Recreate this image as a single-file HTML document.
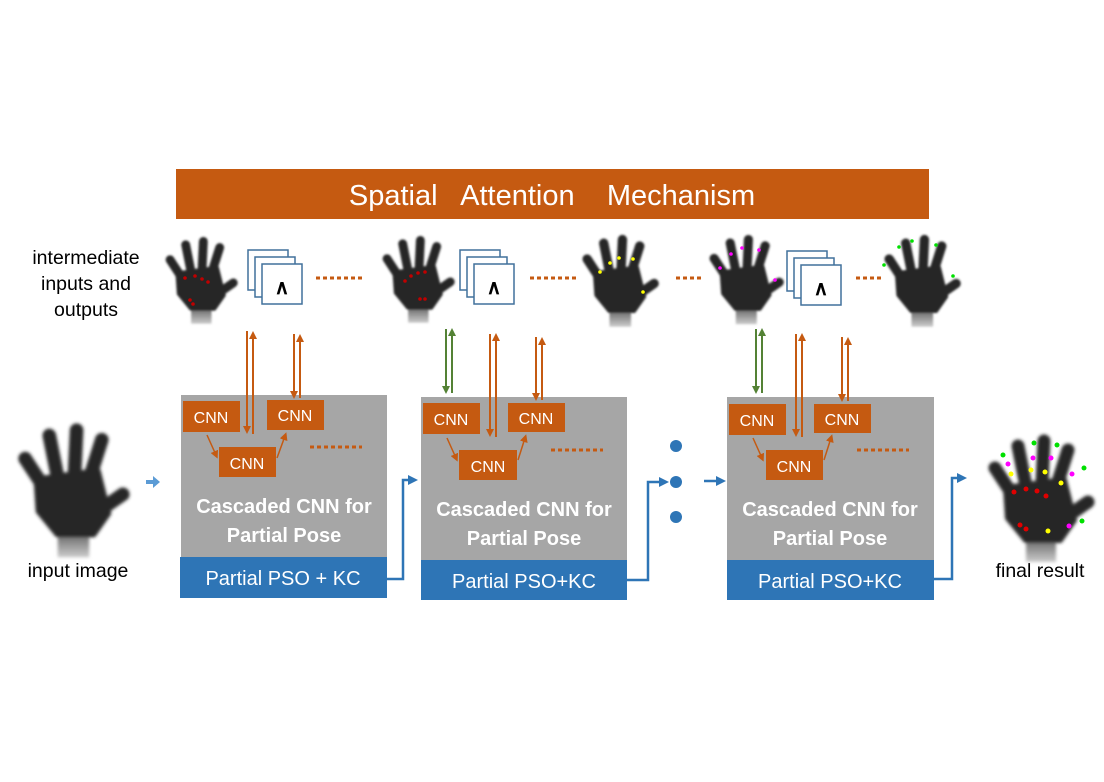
<!DOCTYPE html>
<html><head><meta charset="utf-8"><style>
html,body{margin:0;padding:0;background:#fff;}
svg{display:block;font-family:"Liberation Sans",sans-serif;}
</style></head><body>
<svg width="1104" height="782" viewBox="0 0 1104 782" xmlns="http://www.w3.org/2000/svg">
<defs>
<filter id="bl" x="-20%" y="-20%" width="140%" height="140%"><feGaussianBlur stdDeviation="1.6"/></filter>
<linearGradient id="wr" x1="0" y1="0" x2="0" y2="1"><stop offset="0" stop-color="#333"/><stop offset="1" stop-color="#ccc"/></linearGradient>
<g id="hand">
 <g filter="url(#bl)" stroke="#262626" stroke-linecap="round" fill="#262626">
  <rect x="34" y="92" width="30" height="34" fill="url(#wr)" stroke="none"/>
  <path d="M14 52 L72 44 L82 84 L68 104 L34 104 L16 82 Z" stroke-width="6" stroke-linejoin="round"/>
  <line x1="20" y1="58" x2="3" y2="32" stroke-width="13"/>
  <line x1="34" y1="50" x2="26" y2="10" stroke-width="13"/>
  <line x1="50" y1="48" x2="52" y2="5" stroke-width="13"/>
  <line x1="64" y1="52" x2="76" y2="14" stroke-width="13"/>
  <line x1="70" y1="84" x2="96" y2="66" stroke-width="13"/>
 </g>
</g>
<g id="stack">
 <rect x="0" y="0" width="40" height="40" fill="#fff" stroke="#41719c" stroke-width="1.5"/>
 <rect x="7" y="7" width="40" height="40" fill="#fff" stroke="#41719c" stroke-width="1.5"/>
 <rect x="14" y="14" width="40" height="40" fill="#fff" stroke="#41719c" stroke-width="1.5"/>
 <text x="34" y="44" font-size="20" font-weight="bold" text-anchor="middle" font-family="Liberation Sans,sans-serif">∧</text>
</g>
<marker id="ao" markerWidth="8" markerHeight="8" refX="4" refY="4" orient="auto" markerUnits="userSpaceOnUse"><path d="M0 0 L8 4 L0 8 Z" fill="#c55a11"/></marker>
<marker id="ag" markerWidth="8" markerHeight="8" refX="4" refY="4" orient="auto" markerUnits="userSpaceOnUse"><path d="M0 0 L8 4 L0 8 Z" fill="#548235"/></marker>
<marker id="ab" markerWidth="10" markerHeight="10" refX="5" refY="5" orient="auto" markerUnits="userSpaceOnUse"><path d="M0 0 L10 5 L0 10 Z" fill="#2e75b6"/></marker>
</defs>

<rect x="176" y="169" width="753" height="50" fill="#c55a11"/>
<text x="552" y="205" font-size="29" fill="#fff" text-anchor="middle" xml:space="preserve">Spatial   Attention    Mechanism</text>

<text x="86" y="264" font-size="19.5" text-anchor="middle">intermediate</text>
<text x="86" y="290" font-size="19.5" text-anchor="middle">inputs and</text>
<text x="86" y="316" font-size="19.5" text-anchor="middle">outputs</text>
<text x="78" y="577" font-size="19.5" text-anchor="middle">input image</text>
<text x="1040" y="577" font-size="19.5" text-anchor="middle">final result</text>

<use href="#hand" transform="translate(168,238) scale(0.68)"/>
<g fill="#c00000"><circle cx="185" cy="278" r="1.8"/><circle cx="195" cy="276" r="1.8"/><circle cx="202" cy="279" r="1.8"/><circle cx="208" cy="282" r="1.8"/><circle cx="190" cy="300" r="1.8"/><circle cx="193" cy="304" r="1.8"/></g>
<use href="#stack" transform="translate(248,250)"/>
<line x1="316" y1="278" x2="364" y2="278" stroke="#c55a11" stroke-width="3" stroke-dasharray="4,3"/>

<use href="#hand" transform="translate(385,237) scale(0.68)"/>
<g fill="#c00000"><circle cx="405" cy="281" r="1.8"/><circle cx="411" cy="276" r="1.8"/><circle cx="418" cy="273" r="1.8"/><circle cx="425" cy="272" r="1.8"/><circle cx="420" cy="299" r="1.8"/><circle cx="425" cy="299" r="1.8"/></g>
<use href="#stack" transform="translate(460,250)"/>
<line x1="530" y1="278" x2="578" y2="278" stroke="#c55a11" stroke-width="3" stroke-dasharray="4,3"/>

<use href="#hand" transform="translate(585,236) scale(0.72)"/>
<g fill="#ffff00"><circle cx="600" cy="272" r="1.8"/><circle cx="610" cy="263" r="1.8"/><circle cx="619" cy="258" r="1.8"/><circle cx="633" cy="259" r="1.8"/><circle cx="643" cy="292" r="1.8"/></g>
<line x1="676" y1="278" x2="702" y2="278" stroke="#c55a11" stroke-width="3" stroke-dasharray="4,3"/>

<use href="#hand" transform="translate(712,236) scale(0.70)"/>
<g fill="#ff00ff"><circle cx="720" cy="268" r="1.8"/><circle cx="731" cy="254" r="1.8"/><circle cx="742" cy="248" r="1.8"/><circle cx="759" cy="250" r="1.8"/><circle cx="775" cy="280" r="1.8"/></g>
<use href="#stack" transform="translate(787,251)"/>
<line x1="856" y1="278" x2="884" y2="278" stroke="#c55a11" stroke-width="3" stroke-dasharray="4,3"/>

<use href="#hand" transform="translate(887,236) scale(0.72)"/>
<g fill="#00e000"><circle cx="884" cy="265" r="1.8"/><circle cx="899" cy="247" r="1.8"/><circle cx="912" cy="241" r="1.8"/><circle cx="936" cy="245" r="1.8"/><circle cx="953" cy="276" r="1.8"/></g>

<use href="#hand" transform="translate(22,425) scale(1.05)"/>
<use href="#hand" transform="translate(992,436) scale(1.0)"/>
<g><circle cx="1003" cy="455" r="2.5" fill="#00e000"/><circle cx="1034" cy="443" r="2.5" fill="#00e000"/><circle cx="1057" cy="445" r="2.5" fill="#00e000"/><circle cx="1084" cy="468" r="2.5" fill="#00e000"/><circle cx="1082" cy="521" r="2.5" fill="#00e000"/>
<circle cx="1008" cy="464" r="2.5" fill="#ff00ff"/><circle cx="1033" cy="458" r="2.5" fill="#ff00ff"/><circle cx="1051" cy="458" r="2.5" fill="#ff00ff"/><circle cx="1072" cy="474" r="2.5" fill="#ff00ff"/><circle cx="1069" cy="526" r="2.5" fill="#ff00ff"/>
<circle cx="1011" cy="474" r="2.5" fill="#ffff00"/><circle cx="1031" cy="470" r="2.5" fill="#ffff00"/><circle cx="1045" cy="472" r="2.5" fill="#ffff00"/><circle cx="1061" cy="483" r="2.5" fill="#ffff00"/><circle cx="1048" cy="531" r="2.5" fill="#ffff00"/>
<circle cx="1014" cy="492" r="2.5" fill="#e00000"/><circle cx="1026" cy="489" r="2.5" fill="#e00000"/><circle cx="1037" cy="491" r="2.5" fill="#e00000"/><circle cx="1046" cy="496" r="2.5" fill="#e00000"/><circle cx="1020" cy="525" r="2.5" fill="#e00000"/><circle cx="1026" cy="529" r="2.5" fill="#e00000"/></g>

<path d="M146 482 L154 482" stroke="#5b9bd5" stroke-width="4"/>
<path d="M153 476 L160 482 L153 488 Z" fill="#5b9bd5"/>

<rect x="181" y="395" width="206" height="162" fill="#a6a6a6"/>
<rect x="180" y="557" width="207" height="41" fill="#2e75b6"/>
<text x="283" y="585" font-size="20" fill="#fff" text-anchor="middle">Partial PSO + KC</text>
<text x="284" y="513" font-size="20" font-weight="bold" fill="#fff" text-anchor="middle">Cascaded CNN for</text>
<text x="284" y="542" font-size="20" font-weight="bold" fill="#fff" text-anchor="middle">Partial Pose</text>
<rect x="183" y="401" width="57" height="31" fill="#c55a11"/><text x="211" y="423" font-size="16" fill="#fff" text-anchor="middle">CNN</text>
<rect x="267" y="400" width="57" height="30" fill="#c55a11"/><text x="295" y="421" font-size="16" fill="#fff" text-anchor="middle">CNN</text>
<rect x="219" y="447" width="57" height="30" fill="#c55a11"/><text x="247" y="469" font-size="16" fill="#fff" text-anchor="middle">CNN</text>
<line x1="207" y1="435" x2="216" y2="455" stroke="#c55a11" stroke-width="1.5" marker-end="url(#ao)"/>
<line x1="277" y1="458" x2="285" y2="436" stroke="#c55a11" stroke-width="1.5" marker-end="url(#ao)"/>
<line x1="310" y1="447" x2="362" y2="447" stroke="#c55a11" stroke-width="3" stroke-dasharray="4,3"/>
<line x1="247" y1="331" x2="247" y2="430" stroke="#c55a11" stroke-width="2" marker-end="url(#ao)"/>
<line x1="253" y1="434" x2="253" y2="335" stroke="#c55a11" stroke-width="2" marker-end="url(#ao)"/>
<line x1="294" y1="334" x2="294" y2="395" stroke="#c55a11" stroke-width="2" marker-end="url(#ao)"/>
<line x1="300" y1="398" x2="300" y2="338" stroke="#c55a11" stroke-width="2" marker-end="url(#ao)"/>

<polyline points="387,579 403,579 403,480 413,480" fill="none" stroke="#2e75b6" stroke-width="2.5" marker-end="url(#ab)"/>

<rect x="421" y="397" width="206" height="163" fill="#a6a6a6"/>
<rect x="421" y="560" width="206" height="40" fill="#2e75b6"/>
<text x="524" y="588" font-size="20" fill="#fff" text-anchor="middle">Partial PSO+KC</text>
<text x="524" y="516" font-size="20" font-weight="bold" fill="#fff" text-anchor="middle">Cascaded CNN for</text>
<text x="524" y="545" font-size="20" font-weight="bold" fill="#fff" text-anchor="middle">Partial Pose</text>
<rect x="423" y="403" width="57" height="31" fill="#c55a11"/><text x="451" y="425" font-size="16" fill="#fff" text-anchor="middle">CNN</text>
<rect x="508" y="403" width="57" height="29" fill="#c55a11"/><text x="536" y="424" font-size="16" fill="#fff" text-anchor="middle">CNN</text>
<rect x="459" y="450" width="58" height="30" fill="#c55a11"/><text x="488" y="472" font-size="16" fill="#fff" text-anchor="middle">CNN</text>
<line x1="447" y1="438" x2="456" y2="458" stroke="#c55a11" stroke-width="1.5" marker-end="url(#ao)"/>
<line x1="518" y1="460" x2="525" y2="438" stroke="#c55a11" stroke-width="1.5" marker-end="url(#ao)"/>
<line x1="551" y1="450" x2="603" y2="450" stroke="#c55a11" stroke-width="3" stroke-dasharray="4,3"/>
<line x1="446" y1="329" x2="446" y2="390" stroke="#548235" stroke-width="2" marker-end="url(#ag)"/>
<line x1="452" y1="393" x2="452" y2="332" stroke="#548235" stroke-width="2" marker-end="url(#ag)"/>
<line x1="490" y1="334" x2="490" y2="433" stroke="#c55a11" stroke-width="2" marker-end="url(#ao)"/>
<line x1="496" y1="437" x2="496" y2="337" stroke="#c55a11" stroke-width="2" marker-end="url(#ao)"/>
<line x1="536" y1="337" x2="536" y2="397" stroke="#c55a11" stroke-width="2" marker-end="url(#ao)"/>
<line x1="542" y1="400" x2="542" y2="341" stroke="#c55a11" stroke-width="2" marker-end="url(#ao)"/>

<polyline points="627,580 648,580 648,482 664,482" fill="none" stroke="#2e75b6" stroke-width="2.5" marker-end="url(#ab)"/>
<circle cx="676" cy="446" r="6" fill="#2e75b6"/>
<circle cx="676" cy="482" r="6" fill="#2e75b6"/>
<circle cx="676" cy="517" r="6" fill="#2e75b6"/>
<line x1="704" y1="481" x2="721" y2="481" stroke="#2e75b6" stroke-width="2.5" marker-end="url(#ab)"/>

<rect x="727" y="397" width="207" height="163" fill="#a6a6a6"/>
<rect x="727" y="560" width="207" height="40" fill="#2e75b6"/>
<text x="830" y="588" font-size="20" fill="#fff" text-anchor="middle">Partial PSO+KC</text>
<text x="830" y="516" font-size="20" font-weight="bold" fill="#fff" text-anchor="middle">Cascaded CNN for</text>
<text x="830" y="545" font-size="20" font-weight="bold" fill="#fff" text-anchor="middle">Partial Pose</text>
<rect x="729" y="404" width="57" height="31" fill="#c55a11"/><text x="757" y="426" font-size="16" fill="#fff" text-anchor="middle">CNN</text>
<rect x="814" y="404" width="57" height="29" fill="#c55a11"/><text x="842" y="425" font-size="16" fill="#fff" text-anchor="middle">CNN</text>
<rect x="766" y="450" width="57" height="30" fill="#c55a11"/><text x="794" y="472" font-size="16" fill="#fff" text-anchor="middle">CNN</text>
<line x1="753" y1="438" x2="762" y2="458" stroke="#c55a11" stroke-width="1.5" marker-end="url(#ao)"/>
<line x1="824" y1="460" x2="831" y2="438" stroke="#c55a11" stroke-width="1.5" marker-end="url(#ao)"/>
<line x1="857" y1="450" x2="909" y2="450" stroke="#c55a11" stroke-width="3" stroke-dasharray="4,3"/>
<line x1="756" y1="329" x2="756" y2="390" stroke="#548235" stroke-width="2" marker-end="url(#ag)"/>
<line x1="762" y1="393" x2="762" y2="332" stroke="#548235" stroke-width="2" marker-end="url(#ag)"/>
<line x1="796" y1="334" x2="796" y2="433" stroke="#c55a11" stroke-width="2" marker-end="url(#ao)"/>
<line x1="802" y1="437" x2="802" y2="337" stroke="#c55a11" stroke-width="2" marker-end="url(#ao)"/>
<line x1="842" y1="337" x2="842" y2="398" stroke="#c55a11" stroke-width="2" marker-end="url(#ao)"/>
<line x1="848" y1="401" x2="848" y2="341" stroke="#c55a11" stroke-width="2" marker-end="url(#ao)"/>

<polyline points="934,579 952,579 952,478 962,478" fill="none" stroke="#2e75b6" stroke-width="2.5" marker-end="url(#ab)"/>
</svg>
</body></html>
